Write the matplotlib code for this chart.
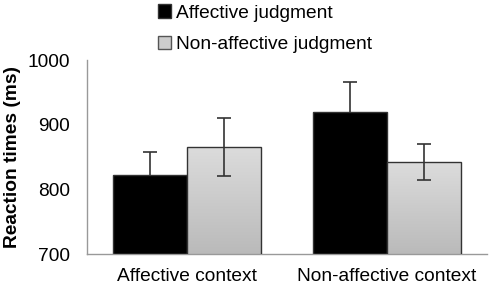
import matplotlib
matplotlib.use("Agg")
import matplotlib.pyplot as plt
import numpy as np
from matplotlib.patches import Rectangle, Patch
from matplotlib.colors import LinearSegmentedColormap

plt.rcParams['font.family'] = ['Liberation Sans', 'DejaVu Sans']

categories = ["Affective context", "Non-affective context"]
series_names = ["Affective judgment", "Non-affective judgment"]
affective = [822, 919]
non_affective = [866, 842]
affective_err = [35, 47]
non_affective_err = [45, 28]
yticks = [700, 800, 900, 1000]

FS = 13.8

fig = plt.figure(figsize=(4.9, 2.9), dpi=100)
ax = fig.add_axes([0.1776, 0.1241, 0.8163, 0.669])

x = np.arange(len(categories))
w = 0.37
b1 = ax.bar(x - w/2, affective, w, color='black', edgecolor='#333333', linewidth=1.0, zorder=2)
b2 = ax.bar(x + w/2, non_affective, w, color='none', edgecolor='#333333', linewidth=1.0, zorder=3)

# gradient fill for grey bars
grad = np.linspace(0, 1, 256).reshape(-1, 1)
cmap = LinearSegmentedColormap.from_list('g', ['#bababa', '#dcdcdc'])
for r in b2.patches:
    x0, y0 = r.get_x(), 700
    im = ax.imshow(grad, extent=[x0, x0 + r.get_width(), y0, r.get_height()],
                   origin='lower', aspect='auto', cmap=cmap, zorder=2)
    im.set_clip_path(Rectangle((x0, y0), r.get_width(), r.get_height() - y0, transform=ax.transData))
ax.set_xlim(-0.5, 1.5)
ax.set_ylim(700, 1000)

ax.errorbar(x - w/2, affective, yerr=affective_err, fmt='none', ecolor='#333333',
            elinewidth=1.2, capsize=5, capthick=1.2, zorder=1)
ax.errorbar(x + w/2, non_affective, yerr=non_affective_err, fmt='none', ecolor='#333333',
            elinewidth=1.2, capsize=5, capthick=1.2, zorder=4)

ax.set_yticks(yticks)
ax.set_yticklabels([str(t) for t in yticks], fontsize=FS)
ax.set_xticks(x)
ax.set_xticklabels(categories, fontsize=FS)
ax.tick_params(axis='y', length=0, pad=12)
ax.tick_params(axis='x', length=0, pad=10)
for s in ['top', 'right']:
    ax.spines[s].set_visible(False)
for s in ['left', 'bottom']:
    ax.spines[s].set_color('#999999')
    ax.spines[s].set_linewidth(1.0)
ax.set_ylabel("Reaction times (ms)", fontsize=FS, fontweight='bold', labelpad=5)

handles = [Patch(facecolor='black', edgecolor='#333333'),
           Patch(facecolor='#cccccc', edgecolor='#555555')]
fig.legend(handles, series_names, loc='upper left', bbox_to_anchor=(0.287, 1.045),
           frameon=False, fontsize=FS, handlelength=0.7, handleheight=0.7,
           handletextpad=0.25, labelspacing=0.75)

fig.savefig("out.png", dpi=100)
